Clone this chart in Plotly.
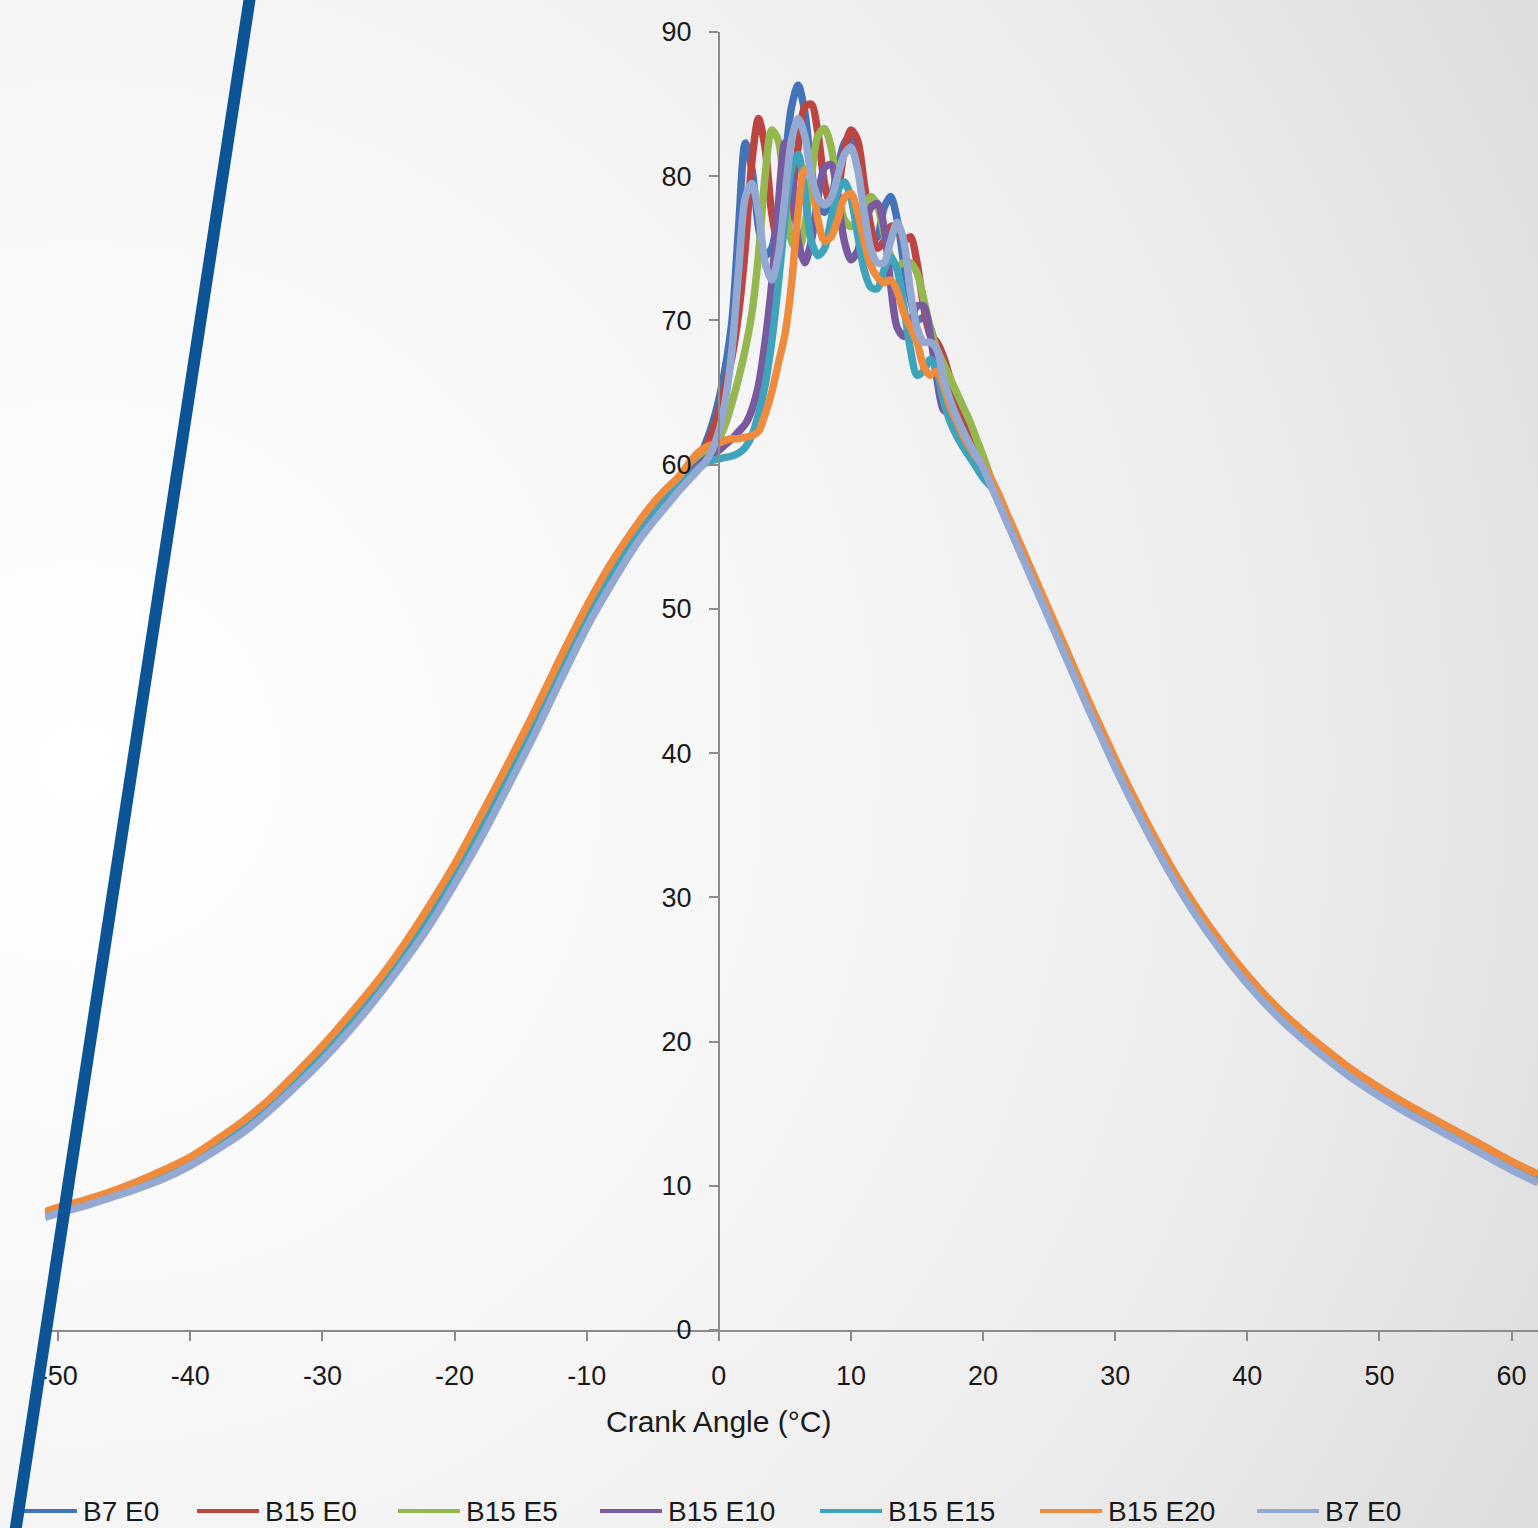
import base64
import plotly.graph_objects as go

# ---------------- data ----------------
series_names = ["B7 E0", "B15 E0", "B15 E5", "B15 E10", "B15 E15", "B15 E20", "B7 E0"]
series_colors = ["#4473b8", "#bd4541", "#94b84f", "#7a5a9f", "#3fa3bc", "#ee8b3c", "#93a9d2"]

# compression stroke
comp_x = [-51, -50, -48, -46, -44, -42, -40, -38, -36, -34, -32, -30, -28, -26, -24, -22,
          -20, -18, -16, -14, -12, -10, -8, -6, -5, -4]
comp_y = [8.0, 8.3, 8.8, 9.4, 10.0, 10.8, 11.7, 12.8, 14.1, 15.6, 17.3, 19.2, 21.2, 23.4,
          25.9, 28.6, 31.6, 34.9, 38.4, 42.0, 45.8, 49.4, 52.6, 55.4, 56.6, 57.6]
comp_y_e20 = [8.2, 8.5, 9.0, 9.6, 10.3, 11.1, 12.0, 13.2, 14.5, 16.0, 17.8, 19.7, 21.8, 24.0,
              26.5, 29.3, 32.3, 35.7, 39.2, 42.8, 46.6, 50.2, 53.4, 56.1, 57.3, 58.3]
comp_y_b7b = [7.8, 8.1, 8.6, 9.2, 9.8, 10.5, 11.4, 12.5, 13.7, 15.2, 16.9, 18.7, 20.7, 22.9,
              25.3, 27.9, 30.9, 34.1, 37.6, 41.2, 45.0, 48.7, 51.9, 54.8, 56.0, 57.1]

# combustion region, 0.5 deg steps from -3 to 20
comb_x = [-3, -2.5, -2, -1.5, -1, -0.5, 0, 0.5, 1, 1.5, 2, 2.5, 3, 3.5, 4, 4.5, 5, 5.5, 6,
          6.5, 7, 7.5, 8, 8.5, 9, 9.5, 10, 10.5, 11, 11.5, 12, 12.5, 13, 13.5, 14, 14.5,
          15, 15.5, 16, 16.5, 17, 17.5, 18, 18.5, 19, 19.5, 20]
b7_e0 = [58.7, 59.2, 59.8, 60.5, 61.5, 62.8, 64.5, 66.8, 70.0, 76.5, 82.3, 80.5, 76.5, 74.5,
         75.0, 77.5, 81.0, 84.8, 86.3, 84.5, 80.5, 78.0, 77.5, 78.5, 80.5, 82.3, 82.8, 81.0,
         78.0, 75.5, 75.8, 77.8, 78.6, 77.0, 74.0, 71.5, 70.0, 70.2, 69.5, 67.8, 66.0, 64.8,
         63.8, 62.8, 61.8, 60.9, 60.0]
b15_e0 = [58.7, 59.2, 59.8, 60.4, 61.2, 62.3, 63.7, 65.5, 67.5, 70.5, 75.0, 81.0, 84.0, 82.0,
          77.5, 75.5, 76.0, 78.5, 82.0, 84.8, 85.0, 83.0, 79.5, 78.0, 79.0, 81.8, 83.2, 82.5,
          79.5, 76.5, 75.0, 75.5, 76.5, 76.5, 75.5, 75.8, 74.0, 71.0, 69.0, 68.5, 67.5, 66.0,
          64.5, 63.2, 62.0, 61.0, 60.1]
b15_e5 = [58.7, 59.2, 59.7, 60.2, 60.7, 61.2, 61.8, 62.8, 64.3, 66.0, 68.0, 70.5, 74.5, 80.0,
          83.2, 82.5, 78.5, 75.5, 74.8, 76.5, 80.0, 82.8, 83.3, 82.0, 79.0, 77.0, 76.5, 77.0,
          78.0, 78.6, 78.0, 76.0, 74.5, 73.8, 74.0, 74.0, 73.3, 71.5, 69.5, 68.0, 67.0, 66.0,
          65.0, 64.0, 63.0, 61.8, 60.6]
b15_e10 = [58.6, 59.1, 59.6, 60.0, 60.4, 60.7, 61.0, 61.4, 61.8, 62.3, 62.8, 63.8, 65.5, 68.5,
           72.5, 78.0, 82.3, 80.5, 75.5, 74.0, 75.5, 78.5, 80.6, 80.8, 78.5, 75.5, 74.2, 74.8,
           76.5, 77.8, 78.1, 76.5, 72.5, 69.5, 68.9, 69.8, 71.0, 71.0, 69.0, 66.0, 63.8, 63.5,
           63.0, 62.2, 61.3, 60.5, 59.8]
b15_e15 = [58.6, 59.0, 59.4, 59.8, 60.1, 60.3, 60.4, 60.5, 60.6, 60.8, 61.2, 62.0, 63.5, 65.5,
           68.5, 72.5, 77.0, 80.5, 81.5, 79.0, 75.5, 74.5, 75.0, 77.0, 79.0, 79.6, 78.5, 76.0,
           73.5, 72.3, 72.2, 73.5, 74.4, 73.5, 71.0, 68.0, 66.2, 66.5, 67.3, 66.5, 64.5, 63.0,
           62.0, 61.2, 60.5, 59.8, 59.1]
b15_e20 = [59.2, 59.8, 60.4, 60.9, 61.2, 61.4, 61.5, 61.7, 61.8, 61.8, 61.9, 62.0, 62.3, 63.5,
           65.0, 67.0, 69.0, 72.5, 77.5, 80.5, 80.0, 77.0, 75.5, 75.8, 77.0, 78.5, 78.8, 77.5,
           75.5, 73.8, 73.0, 72.6, 72.8, 72.0, 70.5, 69.5, 68.5, 66.8, 66.2, 66.5, 65.5, 64.0,
           63.0, 62.0, 61.2, 60.5, 60.0]
b7_e0_b = [58.2, 58.7, 59.2, 59.7, 60.2, 61.0, 62.3, 64.5, 68.0, 73.5, 78.5, 79.5, 77.5, 74.0,
           72.8, 74.5, 78.5, 82.5, 84.0, 82.8, 80.0, 78.5, 78.0, 78.5, 80.0, 81.5, 82.0, 80.5,
           77.5, 75.0, 74.0, 74.0, 75.5, 76.8, 75.5, 72.0, 69.5, 68.5, 68.5, 68.0, 66.0, 64.5,
           63.3, 62.3, 61.4, 60.6, 59.8]

# expansion stroke
exp_x = [21, 22, 23, 24, 25, 26, 27, 28, 29, 30, 32, 34, 36, 38, 40, 42, 44, 46, 48, 50,
         52, 54, 56, 58, 60, 62]
exp_y = [58.0, 55.9, 53.8, 51.7, 49.6, 47.5, 45.4, 43.3, 41.3, 39.3, 35.6, 32.2, 29.2, 26.6,
         24.3, 22.3, 20.6, 19.1, 17.7, 16.5, 15.4, 14.4, 13.4, 12.4, 11.4, 10.5]
exp_y_e20 = [58.3, 56.2, 54.1, 52.0, 49.9, 47.8, 45.7, 43.6, 41.6, 39.6, 35.9, 32.5, 29.5, 26.9,
             24.6, 22.6, 20.9, 19.4, 18.0, 16.8, 15.7, 14.7, 13.7, 12.7, 11.7, 10.8]
exp_y_b7b = [57.7, 55.6, 53.5, 51.4, 49.3, 47.2, 45.1, 43.0, 41.0, 39.0, 35.3, 31.9, 28.9, 26.3,
             24.0, 22.0, 20.3, 18.8, 17.4, 16.2, 15.1, 14.1, 13.1, 12.1, 11.1, 10.2]

comb_values = [b7_e0, b15_e0, b15_e5, b15_e10, b15_e15, b15_e20, b7_e0_b]
comp_values = [comp_y, comp_y, comp_y, comp_y, comp_y, comp_y_e20, comp_y_b7b]
exp_values = [exp_y, exp_y, exp_y, exp_y, exp_y, exp_y_e20, exp_y_b7b]

x_ticks = [-50, -40, -30, -20, -10, 0, 10, 20, 30, 40, 50, 60]
x_tick_labels = ["-50", "-40", "-30", "-20", "-10", "0", "10", "20", "30", "40", "50", "60"]
y_ticks = [0, 10, 20, 30, 40, 50, 60, 70, 80, 90]
x_range = [-51, 62]
y_range = [0, 90]
x_title = "Crank Angle (°C)"

# ---------------- figure ----------------
W, H = 1538, 1528
L, R, T, B = 45, 0, 32, 198
pw, ph = W - L - R, H - T - B


def px2paper_x(px):
    return (px - L) / pw


def px2paper_y(py):
    return (H - B - py) / ph


fig = go.Figure()
for name, color, cv, mv, ev in zip(series_names, series_colors, comp_values, comb_values, exp_values):
    fig.add_trace(go.Scatter(
        x=comp_x + comb_x + exp_x,
        y=cv + mv + ev,
        mode="lines",
        name=name,
        showlegend=False,
        line=dict(color=color, width=7.5, shape="spline", smoothing=0.8),
    ))

svg = (
    '<svg xmlns="http://www.w3.org/2000/svg" width="1538" height="1528" '
    'preserveAspectRatio="none" viewBox="0 0 1538 1528">'
    '<defs><radialGradient id="g" cx="0.05" cy="0.5" r="1.05" gradientUnits="objectBoundingBox">'
    '<stop offset="0" stop-color="#ffffff"/>'
    '<stop offset="0.45" stop-color="#f6f6f6"/>'
    '<stop offset="0.75" stop-color="#ececec"/>'
    '<stop offset="1" stop-color="#dedede"/>'
    '</radialGradient></defs>'
    '<rect width="1538" height="1528" fill="url(#g)"/></svg>'
)
svg_uri = "data:image/svg+xml;base64," + base64.b64encode(svg.encode()).decode()

y_axis_pos = (0 - x_range[0]) / (x_range[1] - x_range[0])
FONT = "Liberation Sans Narrow, Liberation Sans, Arial, sans-serif"
tick_font = dict(family=FONT, size=27, color="#1a1a1a")

# manual legend (positions in page pixels)
legend_line_px = [15, 197, 398, 600, 820, 1040, 1257]
legend_y_px = 1511
shapes = [dict(type="line", xref="paper", yref="paper",
               x0=px2paper_x(251), y0=px2paper_y(-10),
               x1=px2paper_x(14), y1=px2paper_y(1540),
               line=dict(color="#0d5496", width=12), layer="above")]
annotations = [dict(text=x_title, x=0, xref="x", y=px2paper_y(1422),
                    yref="paper", showarrow=False, xanchor="center", yanchor="middle",
                    font=dict(family=FONT, size=30, color="#1a1a1a"))]
for lx, name, color in zip(legend_line_px, series_names, series_colors):
    shapes.append(dict(type="line", xref="paper", yref="paper",
                       x0=px2paper_x(lx), x1=px2paper_x(lx + 62),
                       y0=px2paper_y(legend_y_px), y1=px2paper_y(legend_y_px),
                       line=dict(color=color, width=4), layer="below"))
    annotations.append(dict(text=name, xref="paper", yref="paper",
                            x=px2paper_x(lx + 66), y=px2paper_y(legend_y_px),
                            xanchor="left", yanchor="middle", showarrow=False,
                            font=dict(family=FONT, size=28, color="#1a1a1a")))
# keep diagonal decoration above everything
shapes.append(shapes.pop(0))

fig.update_layout(
    width=W, height=H,
    margin=dict(l=L, r=R, t=T, b=B),
    paper_bgcolor="#ffffff",
    plot_bgcolor="rgba(0,0,0,0)",
    images=[dict(source=svg_uri, xref="paper", yref="paper",
                 x=px2paper_x(0), y=px2paper_y(0),
                 sizex=W / pw, sizey=H / ph,
                 xanchor="left", yanchor="top", sizing="stretch", layer="below")],
    xaxis=dict(range=x_range, tickvals=x_ticks, ticktext=x_tick_labels,
               showgrid=False, zeroline=False,
               showline=True, linecolor="#8c8c8c", linewidth=2,
               ticks="outside", ticklen=9, tickwidth=1.5, tickcolor="#8c8c8c",
               tickfont=tick_font, ticklabelstandoff=12),
    yaxis=dict(range=y_range, tickvals=y_ticks, showgrid=False, zeroline=False,
               anchor="free", position=y_axis_pos,
               showline=True, linecolor="#8c8c8c", linewidth=2,
               ticks="outside", ticklen=9, tickwidth=1.5, tickcolor="#8c8c8c",
               tickfont=tick_font, ticklabelstandoff=12),
    showlegend=False,
    annotations=annotations,
    shapes=shapes,
)

fig.write_html("out.html")
